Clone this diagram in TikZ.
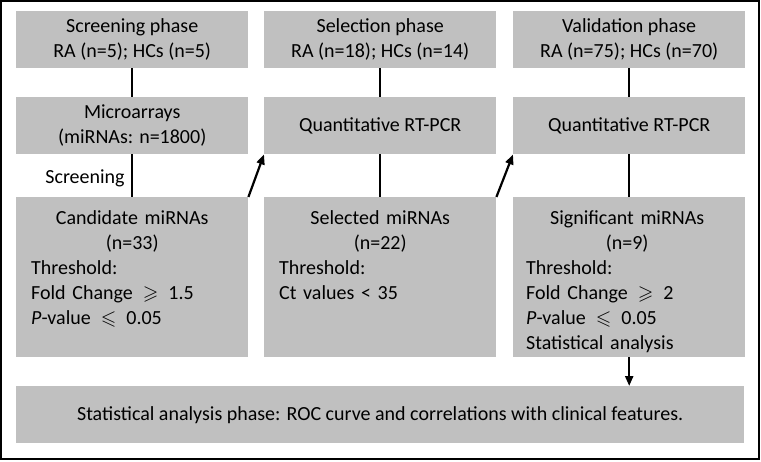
\documentclass[tikz,border=0pt]{standalone}
\usepackage{fontspec}
\setmainfont{Carlito}
\usepackage{amssymb}
\usetikzlibrary{arrows.meta}
\definecolor{boxgray}{RGB}{192,192,192}
\newcommand{\bodyfont}{\fontsize{20}{25}\selectfont}
\begin{document}
\begin{tikzpicture}[x=1pt,y=-1pt,
  graybox/.style={fill=boxgray, inner sep=0pt, minimum width=232pt, anchor=north west},
  boxtext/.style={font=\bodyfont, align=center, inner sep=0pt},
  detail/.style={anchor=north west, inner sep=0pt, text width=202pt, align=left, font=\bodyfont},
  link/.style={line width=2.2pt},
  arr/.style={line width=2.2pt, -{Triangle[length=10pt,width=8pt]}}]
\useasboundingbox (0,0) rectangle (761,461);
\draw[line width=1.6pt] (1,1) rectangle (759,459);
% row 1
\node[graybox, minimum height=57pt, boxtext] (s1) at (16,11) {Screening phase\\RA (n=5); HCs (n=5)};
\node[graybox, minimum height=57pt, boxtext] (s2) at (264,11) {Selection phase\\RA (n=18); HCs (n=14)};
\node[graybox, minimum height=57pt, boxtext] (s3) at (513,11) {Validation phase\\RA (n=75); HCs (n=70)};
% row 2
\node[graybox, minimum height=57pt, boxtext] (m1) at (16,97) {Microarrays\\(miRNAs: n=1800)};
\node[graybox, minimum height=57pt, boxtext] (m2) at (264,97) {Quantitative RT-PCR};
\node[graybox, minimum height=57pt, boxtext] (m3) at (513,97) {Quantitative RT-PCR};
% row 3
\node[graybox, minimum height=160pt] (c1) at (16,197) {};
\node[graybox, minimum height=160pt] (c2) at (264,197) {};
\node[graybox, minimum height=160pt] (c3) at (513,197) {};
\node[detail] (c1t) at ([shift={(15,13.5)}]c1.north west)
  {\makebox[202pt]{Candidate miRNAs}\\\makebox[202pt]{(n=33)}\\Threshold:\\Fold Change \,$\geqslant$\, 1.5\\\textit{P}-value \,$\leqslant$\, 0.05};
\node[detail] (c2t) at ([shift={(15,13.5)}]c2.north west)
  {\makebox[202pt]{Selected miRNAs}\\\makebox[202pt]{(n=22)}\\Threshold:\\Ct values < 35};
\node[detail] (c3t) at ([shift={(13,13.5)}]c3.north west)
  {\makebox[202pt]{Significant miRNAs}\\\makebox[202pt]{(n=9)}\\Threshold:\\Fold Change \,$\geqslant$\, 2\\\textit{P}-value \,$\leqslant$\, 0.05\\Statistical analysis};
% bottom
\node[graybox, minimum width=728pt, minimum height=57pt, boxtext] (fin) at (16,386)
  {Statistical analysis phase: ROC curve and correlations with clinical features.};
% connectors
\draw[link] (s1) -- (m1);
\draw[link] (s2) -- (m2);
\draw[link] (s3) -- (m3);
\draw[link] (m1) -- (c1);
\draw[link] (m2) -- (c2);
\draw[link] (m3) -- (c3);
\node[font=\bodyfont, inner sep=0pt] (scr) at (85,178) {Screening};
\draw[arr] (c1.north east) -- (m2.south west);
\draw[arr] (c2.north east) -- (m3.south west);
\draw[arr] (c3.south) -- (c3.south |- fin.north);
\end{tikzpicture}
\end{document}
